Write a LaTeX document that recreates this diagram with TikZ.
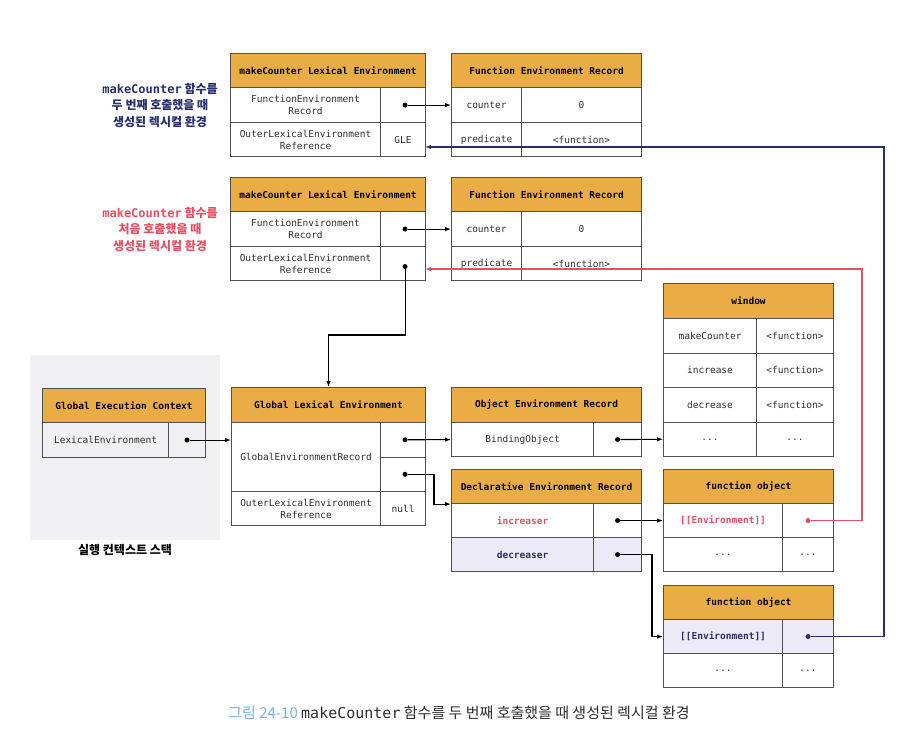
\documentclass[tikz,border=0pt]{standalone}
\usepackage{fontspec}
\usepackage{tikz}
\usetikzlibrary{arrows.meta}
\setmonofont{DejaVu Sans Mono}
\newfontfamily\kr{Noto Sans CJK KR}
\newcommand\cellfont{\ttfamily\fontsize{9.5}{12}\selectfont}
\newcommand\hdrfont{\ttfamily\bfseries\fontsize{9.5}{12}\selectfont}
\definecolor{hdrorange}{RGB}{234,172,68}
\definecolor{gridgray}{RGB}{80,80,80}
\definecolor{inkgray}{RGB}{45,45,45}
\definecolor{secondnavy}{RGB}{38,46,110}
\definecolor{firstred}{RGB}{232,78,98}
\definecolor{lavender}{RGB}{237,235,248}
\definecolor{stackgray}{RGB}{241,241,244}
\definecolor{capblue}{RGB}{120,178,230}
\tikzset{
  cell/.style={draw=gridgray, line width=1.1pt, anchor=north west, inner sep=0pt, align=center, font=\cellfont, text=inkgray},
  hdr/.style={cell, fill=hdrorange, font=\hdrfont, text=black},
  dot/.style={circle, fill, inner sep=0pt, minimum size=5pt},
  link/.style={line width=1.1pt, -{Latex[length=6pt,width=4.5pt]}},
  sidelabel/.style={font=\kr\bfseries\fontsize{12}{16.5}\selectfont, align=center}
}

\begin{document}
\begin{tikzpicture}[x=1pt,y=-1pt]
\useasboundingbox (0,0) rectangle (924,740);

% execution context stack background
\fill[stackgray] (30,355) rectangle (220,540);

% labels on the left
\node[sidelabel, text=secondnavy] (labelTwo) at (160,105) {{\ttfamily makeCounter} 함수를\\두 번째 호출했을 때\\생성된 렉시컬 환경};
\node[sidelabel, text=firstred] (labelOne) at (160,229) {{\ttfamily makeCounter} 함수를\\처음 호출했을 때\\생성된 렉시컬 환경};
\node[sidelabel, text=black] (stackLabel) at (125,550) {실행 컨텍스트 스택};

% makeCounter LE - second call
\node[hdr, minimum width=195pt, minimum height=34pt] (mcTwoHead) at (230,53) {makeCounter Lexical Environment};
\node[cell, minimum width=150pt, minimum height=35pt] (mcTwoRec) at (230,87) {FunctionEnvironment\\Record};
\node[cell, minimum width=45pt, minimum height=35pt] (mcTwoRecVal) at (380,87) {};
\node[cell, minimum width=150pt, minimum height=34pt] (mcTwoOuter) at (230,122) {OuterLexicalEnvironment\\Reference};
\node[cell, minimum width=45pt, minimum height=34pt] (mcTwoOuterVal) at (380,122) {GLE};
\node[dot] (mcTwoDot) at ([xshift=2pt]mcTwoRecVal.center) {};
\coordinate (mcTwoIn) at (425,147);

% function environment record - second call
\node[hdr, minimum width=190pt, minimum height=34pt] (ferTwoHead) at (451,53) {Function Environment Record};
\node[cell, minimum width=70pt, minimum height=35pt] (ferTwoCounter) at (451,87) {counter};
\node[cell, minimum width=120pt, minimum height=35pt] (ferTwoCount) at (521,87) {0};
\node[cell, minimum width=70pt, minimum height=34pt] (ferTwoPred) at (451,122) {predicate};
\node[cell, minimum width=120pt, minimum height=34pt] (ferTwoFn) at (521,122) {<function>};

% makeCounter LE - first call
\node[hdr, minimum width=195pt, minimum height=34pt] (mcOneHead) at (230,177) {makeCounter Lexical Environment};
\node[cell, minimum width=150pt, minimum height=35pt] (mcOneRec) at (230,211) {FunctionEnvironment\\Record};
\node[cell, minimum width=45pt, minimum height=35pt] (mcOneRecVal) at (380,211) {};
\node[cell, minimum width=150pt, minimum height=34pt] (mcOneOuter) at (230,246) {OuterLexicalEnvironment\\Reference};
\node[cell, minimum width=45pt, minimum height=34pt] (mcOneOuterVal) at (380,246) {};
\node[dot] (mcOneDot) at ([xshift=2pt]mcOneRecVal.center) {};
\node[dot] (mcOneOuterDot) at ([xshift=2pt,yshift=-3pt]mcOneOuterVal.center) {};
\coordinate (mcOneIn) at (425,269);

% function environment record - first call
\node[hdr, minimum width=190pt, minimum height=34pt] (ferOneHead) at (451,177) {Function Environment Record};
\node[cell, minimum width=70pt, minimum height=35pt] (ferOneCounter) at (451,211) {counter};
\node[cell, minimum width=120pt, minimum height=35pt] (ferOneCount) at (521,211) {0};
\node[cell, minimum width=70pt, minimum height=34pt] (ferOnePred) at (451,246) {predicate};
\node[cell, minimum width=120pt, minimum height=34pt] (ferOneFn) at (521,246) {<function>};

% window object
\node[hdr, minimum width=170pt, minimum height=35pt] (winHead) at (663,283) {window};
\node[cell, minimum width=93pt, minimum height=34.5pt] (winMake) at (663,318) {makeCounter};
\node[cell, minimum width=77pt, minimum height=34.5pt] (winMakeVal) at (756,318) {<function>};
\node[cell, minimum width=93pt, minimum height=34.5pt] (winInc) at (663,352.5) {increase};
\node[cell, minimum width=77pt, minimum height=34.5pt] (winIncVal) at (756,352.5) {<function>};
\node[cell, minimum width=93pt, minimum height=34.5pt] (winDec) at (663,387) {decrease};
\node[cell, minimum width=77pt, minimum height=34.5pt] (winDecVal) at (756,387) {<function>};
\node[cell, minimum width=93pt, minimum height=34.5pt] (winDots) at (663,421.5) {...};
\node[cell, minimum width=77pt, minimum height=34.5pt] (winDotsVal) at (756,421.5) {...};

% global execution context
\node[hdr, minimum width=163pt, minimum height=34pt] (gecHead) at (42,388) {Global Execution Context};
\node[cell, minimum width=126pt, minimum height=35pt] (gecLex) at (42,422) {LexicalEnvironment};
\node[cell, minimum width=37pt, minimum height=35pt] (gecLexVal) at (168,422) {};
\node[dot] (gecDot) at (gecLexVal) {};

% global lexical environment
\node[hdr, minimum width=194pt, minimum height=35pt] (gleHead) at (231,387) {Global Lexical Environment};
\node[cell, minimum width=149pt, minimum height=69pt] (gleRec) at (231,422) {GlobalEnvironmentRecord};
\node[cell, minimum width=45pt, minimum height=34.5pt] (gleRecObj) at (380,422) {};
\node[cell, minimum width=45pt, minimum height=34.5pt] (gleRecDecl) at (380,456.5) {};
\node[cell, minimum width=149pt, minimum height=34pt] (gleOuter) at (231,491) {OuterLexicalEnvironment\\Reference};
\node[cell, minimum width=45pt, minimum height=34pt] (gleOuterVal) at (380,491) {null};
\node[dot] (gleObjDot) at ([xshift=2pt]gleRecObj.center) {};
\node[dot] (gleDeclDot) at ([xshift=2pt]gleRecDecl.center) {};

% object environment record
\node[hdr, minimum width=190pt, minimum height=35pt] (oerHead) at (451,387) {Object Environment Record};
\node[cell, minimum width=142pt, minimum height=34pt] (oerBind) at (451,422) {BindingObject};
\node[cell, minimum width=48pt, minimum height=34pt] (oerBindVal) at (593,422) {};
\node[dot] (oerDot) at (oerBindVal) {};

% declarative environment record
\node[hdr, minimum width=190pt, minimum height=34pt] (derHead) at (451,469) {Declarative Environment Record};
\node[cell, minimum width=142pt, minimum height=34pt, text=firstred, font=\hdrfont] (derInc) at (451,503) {increaser};
\node[cell, minimum width=48pt, minimum height=34pt] (derIncVal) at (593,503) {};
\node[cell, minimum width=142pt, minimum height=34pt, fill=lavender, text=secondnavy, font=\hdrfont] (derDec) at (451,537) {decreaser};
\node[cell, minimum width=48pt, minimum height=34pt, fill=lavender] (derDecVal) at (593,537) {};
\node[dot] (incDot) at (derIncVal) {};
\node[dot] (decDot) at (derDecVal) {};

% function object - increaser
\node[hdr, minimum width=170pt, minimum height=34pt] (foOneHead) at (663,469) {function object};
\node[cell, minimum width=119pt, minimum height=34pt, text=firstred, font=\hdrfont] (foOneEnv) at (663,503) {[[Environment]]};
\node[cell, minimum width=51pt, minimum height=34pt] (foOneEnvVal) at (782,503) {};
\node[cell, minimum width=119pt, minimum height=34pt] (foOneDots) at (663,537) {...};
\node[cell, minimum width=51pt, minimum height=34pt] (foOneDotsVal) at (782,537) {...};
\node[dot, fill=firstred] (foOneDot) at (foOneEnvVal) {};

% function object - decreaser
\node[hdr, minimum width=170pt, minimum height=34pt] (foTwoHead) at (663,585) {function object};
\node[cell, minimum width=119pt, minimum height=34pt, fill=lavender, text=secondnavy, font=\hdrfont] (foTwoEnv) at (663,619) {[[Environment]]};
\node[cell, minimum width=51pt, minimum height=34pt, fill=lavender] (foTwoEnvVal) at (782,619) {};
\node[cell, minimum width=119pt, minimum height=34pt] (foTwoDots) at (663,653) {...};
\node[cell, minimum width=51pt, minimum height=34pt] (foTwoDotsVal) at (782,653) {...};
\node[dot, fill=secondnavy] (foTwoDot) at (foTwoEnvVal) {};

% connectors
\draw[link] (mcTwoDot) -- (ferTwoCounter.west);
\draw[link] (mcOneDot) -- (ferOneCounter.west);
\draw[link] (mcOneOuterDot) -- (mcOneOuterDot |- 0,335) -| (gleHead.north);
\draw[link] (gecDot) -- (gecDot -| gleRec.west);
\draw[link] (gleObjDot) -- (oerBind.west);
\draw[link] (gleDeclDot) -- (434,0 |- gleDeclDot) |- (derHead.south west);
\draw[link] (oerDot) -- (winDots.west);
\draw[link] (incDot) -- (foOneEnv.west);
\draw[link] (decDot) -- (652,0 |- decDot) |- (foTwoEnv.west);
\draw[link, firstred] (foOneDot) -- (862,0 |- foOneDot) |- (mcOneIn);
\draw[link, secondnavy] (foTwoDot) -- (884,0 |- foTwoDot) |- (mcTwoIn);

% caption
\node[font=\kr\fontsize{15}{17}\selectfont, text=inkgray] (caption) at (459,713) {{\color{capblue}그림 24-10} {\ttfamily makeCounter} 함수를 두 번째 호출했을 때 생성된 렉시컬 환경};
\end{tikzpicture}
\end{document}
